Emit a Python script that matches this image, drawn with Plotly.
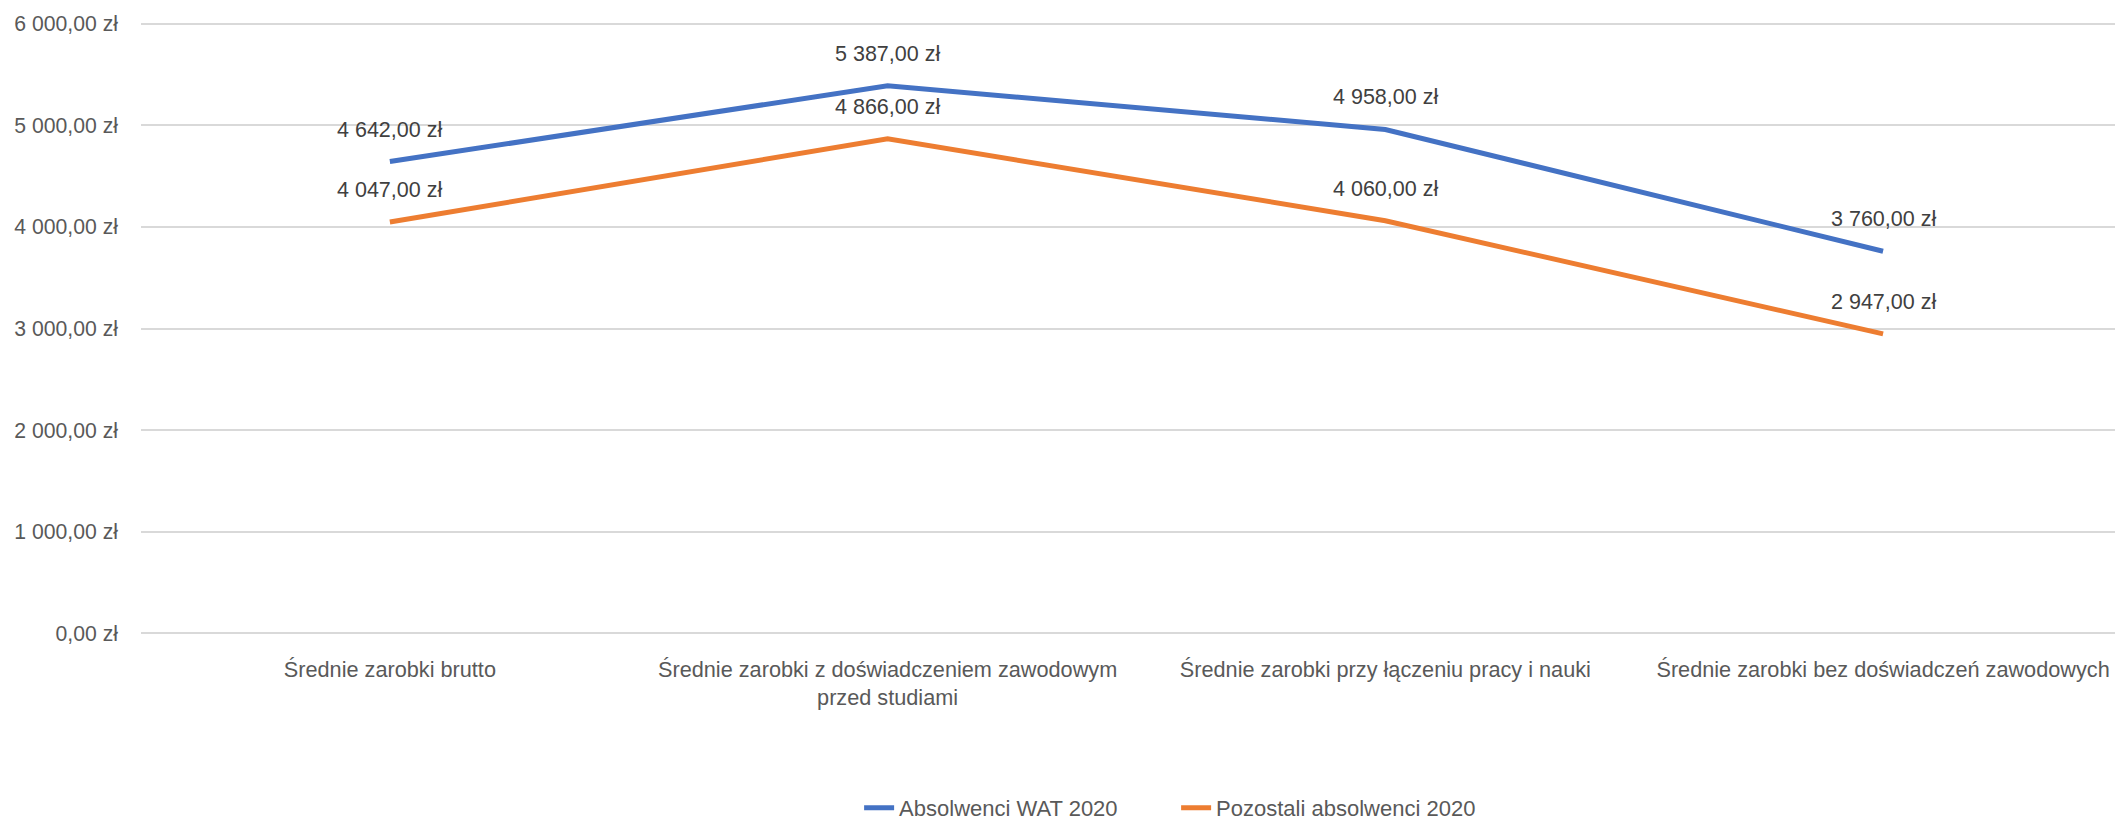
import plotly.graph_objects as go

categories = [
    "Średnie zarobki brutto",
    "Średnie zarobki z doświadczeniem zawodowym<br>przed studiami",
    "Średnie zarobki przy łączeniu pracy i nauki",
    "Średnie zarobki bez doświadczeń zawodowych",
]
wat_2020 = [4642, 5387, 4958, 3760]
others_2020 = [4047, 4866, 4060, 2947]
y_ticks = [0, 1000, 2000, 3000, 4000, 5000, 6000]

def pln(v):
    s = f"{v:,.2f}".replace(",", " ").replace(".", ",")
    return s + " zł"

FONT = "Liberation Sans"
fig = go.Figure()
series = [("Absolwenci WAT 2020", wat_2020, "#4472C4"),
          ("Pozostali absolwenci 2020", others_2020, "#ED7D31")]
for name, vals, col in series:
    fig.add_trace(go.Scatter(x=list(range(len(categories))), y=vals, name=name,
                             mode="lines", line=dict(color=col, width=5),
                             hoverinfo="skip"))
    for i, v in enumerate(vals):
        fig.add_annotation(x=i, y=v, text=pln(v), showarrow=False, yshift=32,
                           font=dict(family=FONT, size=21.5, color="#404040"))

fig.update_layout(
    width=2115, height=821,
    paper_bgcolor="white", plot_bgcolor="white",
    margin=dict(l=141, r=0, t=21.5, b=185.5, autoexpand=False),
    font=dict(family=FONT, color="#595959", size=21.5),
    showlegend=True,
    legend=dict(orientation="h", x=0.4062, xref="container", xanchor="left",
                y=0.016, yref="container", yanchor="middle",
                font=dict(size=22, color="#595959"), traceorder="normal",
                entrywidth=272),
)
fig.update_xaxes(range=[-0.5, 3.466], tickmode="array",
                 tickvals=list(range(len(categories))), ticktext=categories,
                 showgrid=False, zeroline=False, showline=False, ticks="",
                 automargin=False,
                 tickfont=dict(size=21.7, color="#595959"), ticklabelstandoff=19)
fig.update_yaxes(range=[-15, 6015], tickmode="array", tickvals=y_ticks,
                 ticktext=[pln(v) for v in y_ticks],
                 showgrid=True, gridcolor="#D9D9D9", gridwidth=1.5,
                 zeroline=False, showline=False, ticks="", automargin=False,
                 tickfont=dict(size=21.2, color="#595959"), ticklabelstandoff=22)
fig.write_html("out.html", post_script="document.body.style.margin='0';",
               config={"displayModeBar": False})
